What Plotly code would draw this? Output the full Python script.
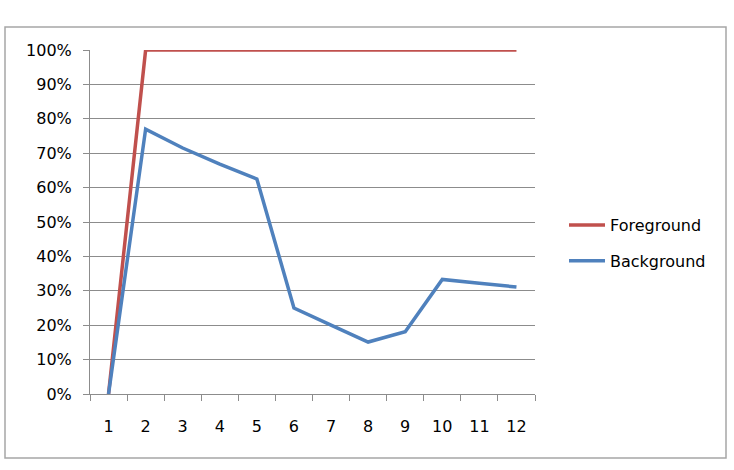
import plotly.graph_objects as go

categories = ["1", "2", "3", "4", "5", "6", "7", "8", "9", "10", "11", "12"]
foreground = [0.0, 1.0, 1.0, 1.0, 1.0, 1.0, 1.0, 1.0, 1.0, 1.0, 1.0, 1.0]
background = [0.0, 0.77, 0.715, 0.668, 0.625, 0.25, 0.20, 0.151, 0.181, 0.333, 0.322, 0.311]
y_ticks = [0, 0.1, 0.2, 0.3, 0.4, 0.5, 0.6, 0.7, 0.8, 0.9, 1.0]

FONT = "DejaVu Sans"
GRID = "#8C8C8C"

fig = go.Figure()
fig.add_trace(go.Scatter(x=categories, y=foreground, mode="lines", name="Foreground",
                         legendgroup="a", line=dict(color="#C0504D", width=3.5)))
fig.add_trace(go.Scatter(x=categories, y=background, mode="lines", name="Background",
                         legendgroup="b", line=dict(color="#4F81BD", width=3.5)))

# plot area in pixels: x 90..535, y 50..394
L, R, T, B = 90, 535, 50, 394
W, H = R - L, B - T

def px_x(p):
    return (p - L) / W

def px_y(p):
    return (B - p) / H

fig.add_shape(type="rect", xref="paper", yref="paper",
              x0=px_x(5), x1=px_x(726), y0=px_y(458), y1=px_y(27),
              line=dict(color="#A6A6A6", width=1.5), layer="below")

fig.update_layout(
    width=734, height=470,
    margin=dict(l=L, r=734 - R, t=T, b=470 - B),
    paper_bgcolor="white", plot_bgcolor="white",
    font=dict(family=FONT, size=16, color="black"),
    showlegend=True,
    legend=dict(x=px_x(564), y=px_y(208), xanchor="left", yanchor="top",
                traceorder="grouped", tracegroupgap=12,
                font=dict(family=FONT, size=16, color="black"),
                bgcolor="rgba(0,0,0,0)", itemwidth=36),
    xaxis=dict(type="category", range=[-0.5, 11.5], showgrid=False,
               showline=True, linecolor=GRID, linewidth=1,
               ticks="outside", tickson="boundaries", ticklen=6, tickcolor=GRID,
               ticklabelstandoff=18, tickfont=dict(size=16), zeroline=False),
    yaxis=dict(range=[0, 1], tickvals=y_ticks, tickformat=".0%",
               showgrid=True, gridcolor=GRID, gridwidth=1,
               showline=True, linecolor=GRID, linewidth=1,
               ticks="outside", ticklen=6, tickcolor=GRID,
               ticklabelstandoff=8, tickfont=dict(size=16), zeroline=False),
)

fig.write_html("out.html")
